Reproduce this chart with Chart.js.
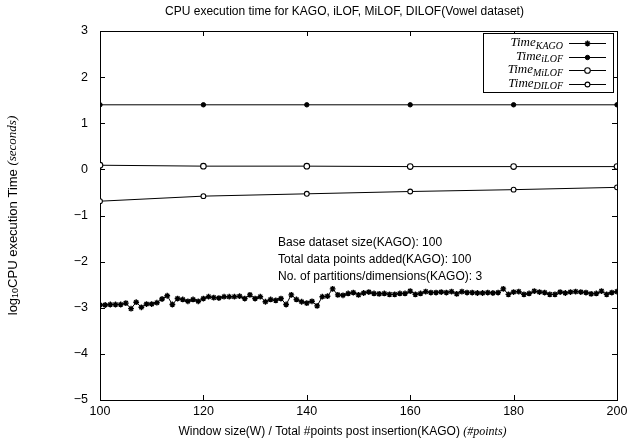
<!DOCTYPE html>
<html><head><meta charset="utf-8">
<script src="https://cdn.jsdelivr.net/npm/chart.js@4/dist/chart.umd.min.js"></script>
<style>html,body{margin:0;padding:0;background:#fff}#wrap{width:627px;height:441px;position:relative}</style>
</head><body><div id="wrap"><canvas id="c"></canvas></div>
<script>
const titleText = 'CPU execution time for KAGO, iLOF, MiLOF, DILOF(Vowel dataset)';
const kagoStart = 100;
const kagoTime = [
 -2.94,-2.94,-2.93,-2.93,-2.93,-2.90,-3.02,-2.88,-2.99,-2.92,
 -2.92,-2.89,-2.81,-2.74,-2.93,-2.80,-2.82,-2.86,-2.82,-2.86,
 -2.80,-2.76,-2.78,-2.79,-2.76,-2.76,-2.76,-2.75,-2.80,-2.72,
 -2.80,-2.76,-2.87,-2.82,-2.84,-2.80,-2.93,-2.72,-2.82,-2.87,
 -2.90,-2.86,-2.96,-2.76,-2.75,-2.59,-2.72,-2.73,-2.69,-2.67,
 -2.72,-2.68,-2.66,-2.69,-2.70,-2.69,-2.71,-2.71,-2.69,-2.69,
 -2.64,-2.71,-2.69,-2.65,-2.67,-2.67,-2.66,-2.67,-2.65,-2.70,
 -2.65,-2.67,-2.67,-2.68,-2.68,-2.67,-2.68,-2.67,-2.59,-2.71,
 -2.66,-2.65,-2.71,-2.69,-2.64,-2.66,-2.67,-2.71,-2.71,-2.66,
 -2.68,-2.66,-2.65,-2.66,-2.67,-2.70,-2.69,-2.64,-2.71,-2.67,
 -2.65
];
const windowSizes = [100,120,140,160,180,200];
const ilofTime  = [1.40,1.40,1.40,1.40,1.40,1.40];
const milofTime = [0.09,0.07,0.07,0.06,0.06,0.06];
const dilofTime = [-0.69,-0.58,-0.53,-0.48,-0.44,-0.39];
const xTickValues = [100,120,140,160,180,200];
const yTickValues = [3,2,1,0,-1,-2,-3,-4,-5];
const legendNames = ['KAGO','iLOF','MiLOF','DILOF'];
const noteLines = ['Base dataset size(KAGO): 100','Total data points added(KAGO): 100','No. of partitions/dimensions(KAGO): 3'];

const SANS = '"Liberation Sans", Arial, Helvetica, sans-serif';
const SERIF = '"Liberation Serif", "Times New Roman", serif';

const kagoPts = kagoTime.map((v,i)=>({x:kagoStart+i,y:v}));
const toPts = arr => arr.map((v,i)=>({x:windowSizes[i],y:v}));

const styles = [
  {pointStyle:'star', radius:2.9, fill:'#000', bw:1.4},
  {pointStyle:'circle', radius:2.2, fill:'#000', bw:1},
  {pointStyle:'circle', radius:2.8, fill:'#fff', bw:1.1},
  {pointStyle:'circle', radius:2.4, fill:'#fff', bw:1.1}
];
const seriesData = [kagoPts, toPts(ilofTime), toPts(milofTime), toPts(dilofTime)];

const datasets = seriesData.map((d,i)=>({
  label:'Time'+legendNames[i], data:d,
  borderColor:'#000', borderWidth:1, backgroundColor:styles[i].fill,
  pointStyle:styles[i].pointStyle, pointRadius:styles[i].radius,
  pointBorderWidth:styles[i].bw, pointBorderColor:'#000', pointBackgroundColor:styles[i].fill,
  tension:0, fill:false
}));

function runsWidth(ctx, runs){
  let w=0; runs.forEach(r=>{ctx.font=r.font; w+=ctx.measureText(r.text).width;}); return w;
}
function drawRuns(ctx, runs, x, y){
  runs.forEach(r=>{ctx.font=r.font; ctx.fillText(r.text, x, y+(r.dy||0)); x+=ctx.measureText(r.text).width;});
}

const decor = {
  id:'decor',
  beforeDatasetsDraw(chart){
    const ctx=chart.ctx, a=chart.chartArea, xs=chart.scales.x, ys=chart.scales.y;
    ctx.save();
    ctx.strokeStyle='#000'; ctx.lineWidth=1;
    ctx.strokeRect(Math.round(a.left)+0.5, Math.round(a.top)+0.5, Math.round(a.right-a.left), Math.round(a.bottom-a.top));
    const tl=5;
    ctx.beginPath();
    xTickValues.forEach(v=>{
      const px=Math.round(xs.getPixelForValue(v))+0.5;
      ctx.moveTo(px,a.bottom); ctx.lineTo(px,a.bottom-tl);
      ctx.moveTo(px,a.top); ctx.lineTo(px,a.top+tl);
    });
    yTickValues.forEach(v=>{
      const py=Math.round(ys.getPixelForValue(v))+0.5;
      ctx.moveTo(a.left,py); ctx.lineTo(a.left+tl,py);
      ctx.moveTo(a.right,py); ctx.lineTo(a.right-tl,py);
    });
    ctx.stroke();
    ctx.restore();
  },
  afterDraw(chart){
    const ctx=chart.ctx, a=chart.chartArea;
    ctx.save();
    ctx.fillStyle='#000'; ctx.textBaseline='middle';
    // title
    ctx.font='12px '+SANS; ctx.textAlign='center';
    ctx.fillText(titleText, (a.left+a.right)/2 - 14, 12);
    ctx.textAlign='left';
    // x axis title
    const xr=[{text:'Window size(W) / Total #points post insertion(KAGO) ',font:'12px '+SANS},{text:'(#points)',font:'italic 12px '+SERIF}];
    const xw=runsWidth(ctx,xr);
    drawRuns(ctx,xr,(a.left+a.right)/2-xw/2-16,432);
    // y axis title
    const yr=[{text:'log',font:'13px '+SANS},{text:'10',font:'9px '+SANS,dy:3},{text:'CPU execution Time ',font:'13px '+SANS},{text:'(seconds)',font:'italic 13px '+SERIF}];
    const yw=runsWidth(ctx,yr);
    ctx.save(); ctx.translate(13,(a.top+a.bottom)/2); ctx.rotate(-Math.PI/2);
    drawRuns(ctx,yr,-yw/2,0); ctx.restore();
    // notes
    ctx.font='12px '+SANS;
    noteLines.forEach((t,i)=>ctx.fillText(t,278,243+i*17));
    // legend
    const bx=483, by=33, bw=130, bh=59;
    ctx.fillStyle='#fff'; ctx.fillRect(bx,by,bw,bh);
    ctx.strokeStyle='#000'; ctx.lineWidth=1; ctx.strokeRect(bx+0.5,by+0.5,bw,bh);
    ctx.fillStyle='#000';
    legendNames.forEach((n,i)=>{
      const y=by+10+i*13.5;
      const runs=[{text:'Time',font:'italic 13px '+SERIF},{text:n,font:'italic 10px '+SERIF,dy:3}];
      const w=runsWidth(ctx,runs);
      const xe=563;
      drawRuns(ctx,runs,xe-w,y);
      ctx.beginPath(); ctx.moveTo(569,Math.round(y)+0.5); ctx.lineTo(606,Math.round(y)+0.5); ctx.lineWidth=1; ctx.strokeStyle='#000'; ctx.stroke();
      ctx.fillStyle=styles[i].fill; ctx.lineWidth=styles[i].bw;
      Chart.helpers.drawPoint(ctx,{pointStyle:styles[i].pointStyle,radius:styles[i].radius,borderWidth:styles[i].bw,rotation:0},587.5,Math.round(y)+0.5);
      ctx.fillStyle='#000';
    });
    ctx.restore();
  }
};

new Chart(document.getElementById('c'),{
  type:'line',
  data:{datasets},
  options:{
    responsive:true, maintainAspectRatio:false, animation:false,
    layout:{padding:{left:0,right:10,top:31,bottom:0}},
    plugins:{legend:{display:false},tooltip:{enabled:false},title:{display:false}},
    scales:{
      x:{type:'linear',min:100,max:200,
        grid:{display:false,drawTicks:false},border:{display:false},
        afterBuildTicks:s=>{s.ticks=xTickValues.map(v=>({value:v}));},
        ticks:{color:'#000',font:{family:SANS,size:12.5},padding:4,maxRotation:0,autoSkip:false},
        afterFit:s=>{s.height=41; s.paddingLeft=0; s.paddingRight=0;}
      },
      y:{type:'linear',min:-5,max:3,
        grid:{display:false,drawTicks:false},border:{display:false},
        afterBuildTicks:s=>{s.ticks=yTickValues.map(v=>({value:v}));},
        ticks:{color:'#000',font:{family:SANS,size:12.5},padding:12,
          callback:v=>(v<0?'\u2212'+Math.abs(v):String(v))},
        afterFit:s=>{s.width=100; s.paddingTop=0; s.paddingBottom=0;}
      }
    }
  },
  plugins:[decor]
});
</script></body></html>
